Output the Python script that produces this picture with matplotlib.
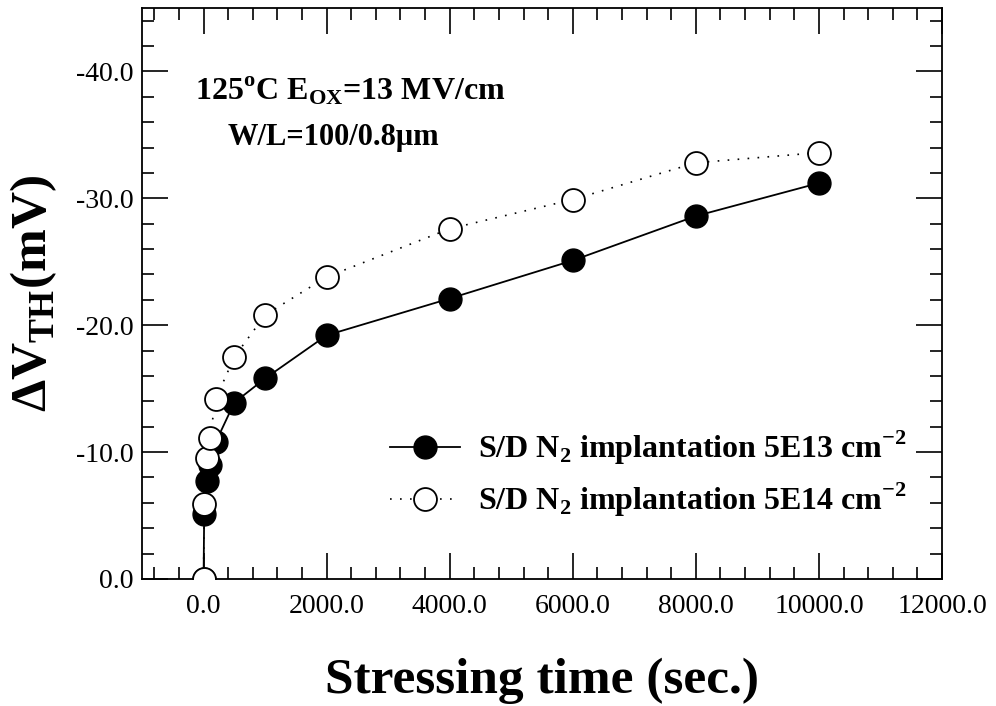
import matplotlib
matplotlib.use('Agg')
import matplotlib.pyplot as plt
from matplotlib.ticker import MultipleLocator, FormatStrFormatter

plt.rcParams['font.family'] = ['Liberation Serif', 'DejaVu Serif']
plt.rcParams['mathtext.fontset'] = 'custom'
plt.rcParams['mathtext.rm'] = 'Liberation Serif'
plt.rcParams['mathtext.bf'] = 'Liberation Serif:bold'
plt.rcParams['axes.unicode_minus'] = False

# stressing time (sec.)
stress_time = [0, 10, 50, 100, 200, 500, 1000, 2000, 4000, 6000, 8000, 10000]
# threshold voltage shift (mV)
dvth_5e13 = [0.0, -5.1, -7.7, -9.0, -10.8, -13.9, -15.8, -19.2, -22.1, -25.1, -28.6, -31.2]
dvth_5e14 = [0.0, -5.9, -9.5, -11.1, -14.2, -17.5, -20.8, -23.8, -27.6, -29.9, -32.8, -33.6]

labels = [r'S/D N$_{\mathbf{2}}$ implantation 5E13 cm$^{\mathbf{-2}}$',
          r'S/D N$_{\mathbf{2}}$ implantation 5E14 cm$^{\mathbf{-2}}$']

fig = plt.figure(figsize=(9.96, 7.06), dpi=100)
ax = fig.add_axes([0.1426, 0.18, 0.8032, 0.8087])

ax.plot(stress_time, dvth_5e13, '-', color='black', lw=1.3, marker='o', ms=16.5,
        mfc='black', mec='black', label=labels[0], zorder=3)
ax.plot(stress_time, dvth_5e14, color='black', lw=1.2, ls=(0, (1, 5)), marker='o',
        ms=16.5, mfc='white', mec='black', mew=1.3, label=labels[1], zorder=4)

ax.set_xlim(-1000, 12000)
ax.set_ylim(0, -45)

ax.xaxis.set_major_locator(MultipleLocator(2000))
ax.xaxis.set_minor_locator(MultipleLocator(400))
ax.yaxis.set_major_locator(MultipleLocator(10))
ax.yaxis.set_minor_locator(MultipleLocator(2))
ax.xaxis.set_major_formatter(FormatStrFormatter('%.1f'))
ax.yaxis.set_major_formatter(FormatStrFormatter('%.1f'))

ax.tick_params(which='both', direction='in', top=True, right=True, width=1.2,
               labelsize=20)
ax.tick_params(which='major', length=19)
ax.tick_params(which='minor', length=8.5)
ax.tick_params(axis='x', which='major', pad=11)
ax.tick_params(axis='y', which='major', pad=6)
for s in ax.spines.values():
    s.set_linewidth(1.3)

ax.set_xlabel('Stressing time (sec.)', fontsize=37, fontweight='bold', labelpad=28)
ax.set_ylabel(r'ΔV$_{\mathbf{TH}}$(mV)', fontsize=37, fontweight='bold', labelpad=12)

ax.text(0.066, 0.84, r'125$^{\mathbf{o}}$C E$_{\mathbf{OX}}$=13 MV/cm',
        transform=ax.transAxes, fontsize=23, fontweight='bold')
ax.text(0.107, 0.76, 'W/L=100/0.8μm', transform=ax.transAxes,
        fontsize=22, fontweight='bold')

leg = ax.legend(loc='lower right', bbox_to_anchor=(0.992, 0.055), frameon=False,
                prop={'weight': 'bold', 'size': 23},
                handlelength=2.2, handletextpad=0.55, labelspacing=0.42)

fig.savefig('out.png', dpi=100)
